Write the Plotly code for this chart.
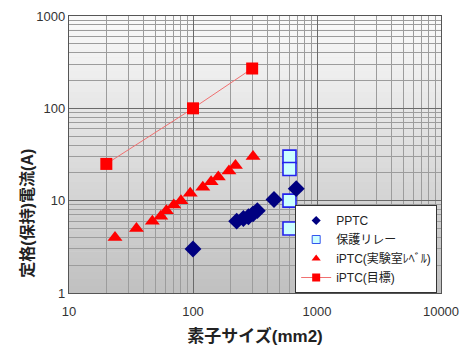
import plotly.graph_objects as go

# Data
pptc_x = [100, 225, 255, 280, 305, 330, 450, 680]
pptc_y = [3.0, 6.0, 6.4, 6.7, 7.2, 7.8, 10.3, 13.5]

relay_x = [600, 600, 600, 600]
relay_y = [30, 22, 10, 5]

lab_x = [23.5, 35, 47, 55, 61, 70, 80, 95, 120, 140, 160, 195, 220, 305]
lab_y = [4.0, 5.0, 6.0, 6.8, 7.8, 9.0, 10.0, 12.0, 14.0, 16.0, 18.0, 21.0, 24.0, 30.0]

goal_x = [20, 100, 300]
goal_y = [25, 100, 270]

x_ticks = [10, 100, 1000, 10000]
y_ticks = [1, 10, 100, 1000]

series_names = ["PPTC", "保護リレー", "iPTC(実験室ﾚﾍﾞﾙ)", "iPTC(目標)"]

FONT_LAT = "Liberation Sans, Arial, sans-serif"
FONT_CJK = "Liberation Sans, Noto Sans CJK JP, sans-serif"

relay_marker = dict(symbol="square", color="#ccffff", line=dict(color="#2222ee", width=1.6))
pptc_marker = dict(symbol="diamond", color="#000080")
lab_marker = dict(symbol="triangle-up", color="#ff0000")
goal_marker = dict(symbol="square", color="#ff0000")
goal_line = dict(color="#f07070", width=1)

fig = go.Figure()

# data traces (relay drawn under PPTC)
fig.add_trace(go.Scatter(x=relay_x, y=relay_y, mode="markers", showlegend=False,
                         name=series_names[1], marker=dict(relay_marker, size=13)))
fig.add_trace(go.Scatter(x=pptc_x, y=pptc_y, mode="markers", showlegend=False,
                         name=series_names[0], marker=dict(pptc_marker, size=13)))
fig.add_trace(go.Scatter(x=lab_x, y=lab_y, mode="markers", showlegend=False,
                         name=series_names[2], marker=dict(lab_marker, size=13)))
fig.add_trace(go.Scatter(x=goal_x, y=goal_y, mode="lines+markers", showlegend=False,
                         name=series_names[3], line=goal_line, marker=dict(goal_marker, size=12)))

# legend entries with smaller symbols
fig.add_trace(go.Scatter(x=[None], y=[None], mode="markers", name=series_names[0],
                         marker=dict(pptc_marker, size=7)))
fig.add_trace(go.Scatter(x=[None], y=[None], mode="markers", name=series_names[1],
                         marker=dict(relay_marker, size=8, line=dict(color="#3355ee", width=1))))
fig.add_trace(go.Scatter(x=[None], y=[None], mode="markers", name=series_names[2],
                         marker=dict(lab_marker, size=8)))
fig.add_trace(go.Scatter(x=[None], y=[None], mode="lines+markers", name=series_names[3],
                         line=goal_line, marker=dict(goal_marker, size=8)))

# vertical gradient background of the plot area
shapes = []
n = 40
top = (250, 250, 250)
bot = (192, 192, 192)
for i in range(n):
    t = (i + 0.5) / n
    c = tuple(int(round(top[k] + (bot[k] - top[k]) * t)) for k in range(3))
    shapes.append(dict(
        type="rect", xref="paper", yref="paper",
        x0=0, x1=1, y0=1 - (i + 1) / n, y1=1 - i / n + 0.001,
        fillcolor="rgb(%d,%d,%d)" % c, line=dict(width=0), layer="below",
    ))

axis_common = dict(
    type="log", dtick=1, showgrid=True, gridcolor="#6a6a6a", gridwidth=1,
    minor=dict(dtick="D1", showgrid=True, gridcolor="#9c9c9c", gridwidth=1, ticks=""),
    showline=True, linecolor="#555555", linewidth=1.3, mirror=True,
    ticks="", zeroline=False,
    tickfont=dict(family=FONT_LAT, size=13, color="#333333"),
)

# page body has an 8px margin, so the figure is 8px smaller and margins shifted
fig.update_layout(
    width=466, height=338,
    margin=dict(l=61, r=33, t=8, b=53, autoexpand=False),
    paper_bgcolor="white", plot_bgcolor="#e0e0e0",
    shapes=shapes,
    xaxis=dict(axis_common, range=[1, 4], tickvals=x_ticks,
               ticktext=[str(v) for v in x_ticks], ticklabelstandoff=6,
               title=dict(text="<b>素子サイズ(mm2)</b>", standoff=13,
                          font=dict(family=FONT_CJK, size=17, color="#222222"))),
    yaxis=dict(axis_common, range=[0, 3], tickvals=y_ticks,
               ticktext=[str(v) for v in y_ticks]),
    showlegend=True,
    legend=dict(
        x=0.608, y=0.0, xanchor="left", yanchor="bottom",
        bgcolor="white", bordercolor="#333333", borderwidth=1,
        font=dict(family=FONT_CJK, size=12, color="#222222"),
        tracegroupgap=0,
    ),
    annotations=[dict(
        text="<b>定格(保持)電流(A)</b>", textangle=-90,
        xref="paper", yref="paper", x=-0.113, y=0.29,
        showarrow=False, xanchor="center", yanchor="middle",
        font=dict(family=FONT_CJK, size=16, color="#222222"),
    )],
)

fig.write_html("out.html")
